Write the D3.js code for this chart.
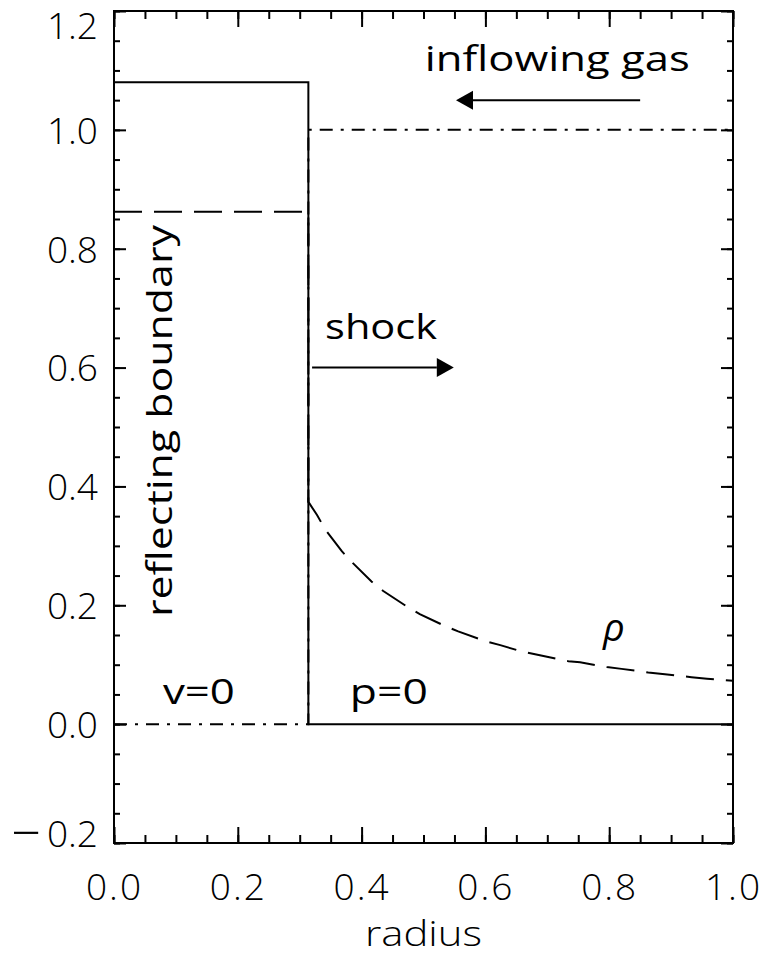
<!DOCTYPE html>
<html>
<head>
<meta charset="utf-8">
<script src="https://cdn.jsdelivr.net/npm/d3@7"></script>
<style>
  html, body { margin: 0; padding: 0; background: #fff; }
  svg { display: block; }
  text { font-family: "Open Sans", "Liberation Sans", sans-serif; font-weight: 300; fill: #000; }
  text.note { font-weight: 400; }
</style>
</head>
<body>
<svg id="chart" width="766" height="957"></svg>
<script>
// Shock tube profile: pressure (solid), density (dashed), velocity (dash-dot)
const xTicks = [0, 0.2, 0.4, 0.6, 0.8, 1.0];
const xTickLabels = ["0.0", "0.2", "0.4", "0.6", "0.8", "1.0"];
const yTicks = [-0.2, 0, 0.2, 0.4, 0.6, 0.8, 1.0, 1.2];
const yTickLabels = ["\u22120.2", "0.0", "0.2", "0.4", "0.6", "0.8", "1.0", "1.2"];

const pressureX = [0, 0.314, 0.314, 1.0];
const pressureY = [1.08, 1.08, 0, 0];

const velocityX = [0, 0.314, 0.314, 1.0];
const velocityY = [0, 0, 1.0, 1.0];

const densityX = [0, 0.314, 0.314, 0.328, 0.341, 0.368, 0.384, 0.416, 0.435, 0.473, 0.494,
                  0.535, 0.556, 0.599, 0.624, 0.656, 0.688, 0.734, 0.753, 0.796, 0.820,
                  0.863, 0.890, 0.933, 0.958, 1.0];
const densityY = [0.862, 0.862, 0.374, 0.352, 0.328, 0.291, 0.273, 0.240, 0.224, 0.198, 0.185,
                  0.165, 0.156, 0.140, 0.133, 0.123, 0.116, 0.106, 0.104, 0.096, 0.093,
                  0.087, 0.084, 0.079, 0.0765, 0.073];

const svg = d3.select("#chart");
const W = 766, H = 957;
const margin = { left: 114, right: W - 733, top: 11, bottom: H - 843 };
const x = d3.scaleLinear().domain([0, 1]).range([margin.left, W - margin.right]);
const y = d3.scaleLinear().domain([-0.2, 1.2]).range([H - margin.bottom, margin.top]);

const x0 = x(0), x1 = x(1), y0 = y(-0.2), y1 = y(1.2);
const minorX = d3.range(0, 1.0001, 0.05).map(v => +v.toFixed(2));
const minorY = d3.range(-0.2, 1.2001, 0.05).map(v => +v.toFixed(2));

const fmtX = d => xTickLabels[xTicks.findIndex(t => Math.abs(t - d) < 1e-6)];
const fmtY = d => yTickLabels[yTicks.findIndex(t => Math.abs(t - d) < 1e-6)];

function styleAxis(g) {
  g.select(".domain").remove();
  g.selectAll("line").attr("stroke", "#000").attr("stroke-width", 2);
}

// Minor ticks on all four sides (pointing inward)
svg.append("g").attr("transform", `translate(0,${y0})`)
  .call(d3.axisBottom(x).tickValues(minorX).tickSize(-8).tickFormat(""))
  .call(styleAxis);
svg.append("g").attr("transform", `translate(0,${y1})`)
  .call(d3.axisTop(x).tickValues(minorX).tickSize(-8).tickFormat(""))
  .call(styleAxis);
svg.append("g").attr("transform", `translate(${x0},0)`)
  .call(d3.axisLeft(y).tickValues(minorY).tickSize(-6).tickFormat(""))
  .call(styleAxis);
svg.append("g").attr("transform", `translate(${x1},0)`)
  .call(d3.axisRight(y).tickValues(minorY).tickSize(-6).tickFormat(""))
  .call(styleAxis);

// Major ticks with labels
const gx = svg.append("g").attr("transform", `translate(0,${y0})`)
  .call(d3.axisBottom(x).tickValues(xTicks).tickSize(-16).tickFormat(fmtX))
  .call(styleAxis);
gx.selectAll("text").attr("y", 57).attr("dy", 0)
  .attr("font-size", 37).attr("font-family", null).attr("letter-spacing", 2);

svg.append("g").attr("transform", `translate(0,${y1})`)
  .call(d3.axisTop(x).tickValues(xTicks).tickSize(-16).tickFormat(""))
  .call(styleAxis);

const gy = svg.append("g").attr("transform", `translate(${x0},0)`)
  .call(d3.axisLeft(y).tickValues(yTicks).tickSize(-12).tickFormat(fmtY))
  .call(styleAxis);
gy.selectAll("text").attr("x", -16).attr("dy", "0.36em")
  .attr("font-size", 37).attr("font-family", null)
  .attr("transform", d => d === 1.2 ? "translate(0,14)" : d === -0.2 ? "translate(0,-10)" : null);
// the negative label gets a longer minus sign and a wider gap
gy.selectAll("text").filter(d => d === -0.2).each(function () {
  const t = d3.select(this);
  const s = t.text();
  t.text(null).attr("dy", null);
  t.append("tspan").text(s.slice(0, 1)).attr("font-size", 52).attr("dy", 17.3);
  t.append("tspan").attr("dx", 6).attr("dy", -4).text(s.slice(1));
});

svg.append("g").attr("transform", `translate(${x1},0)`)
  .call(d3.axisRight(y).tickValues(yTicks).tickSize(-12).tickFormat(""))
  .call(styleAxis);

// Plot frame
svg.append("rect")
  .attr("x", x0).attr("y", y1).attr("width", x1 - x0).attr("height", y0 - y1)
  .attr("fill", "none").attr("stroke", "#000").attr("stroke-width", 2);

// Profiles
const line = d3.line().x(d => x(d[0])).y(d => y(d[1]));
const zipXY = (xs, ys) => xs.map((v, i) => [v, ys[i]]);

svg.append("path").datum(zipXY(velocityX, velocityY))
  .attr("d", line).attr("fill", "none").attr("stroke", "#000").attr("stroke-width", 2)
  .attr("stroke-dasharray", "13,8,3,8");

svg.append("path").datum(zipXY(densityX, densityY))
  .attr("d", line).attr("fill", "none").attr("stroke", "#000").attr("stroke-width", 2)
  .attr("stroke-dasharray", "28,12");

svg.append("path").datum(zipXY(pressureX, pressureY))
  .attr("d", line).attr("fill", "none").attr("stroke", "#000").attr("stroke-width", 2);

// Arrows
function arrow(fromX, toX, atY) {
  const sx = x(fromX), ex = x(toX), py = y(atY);
  const dir = Math.sign(ex - sx);
  const headLen = 17, headHalf = 9.5;
  svg.append("line")
    .attr("x1", sx).attr("y1", py).attr("x2", ex - dir * headLen).attr("y2", py)
    .attr("stroke", "#000").attr("stroke-width", 2);
  svg.append("path")
    .attr("d", `M${ex},${py} L${ex - dir * headLen},${py - headHalf} L${ex - dir * headLen},${py + headHalf} Z`)
    .attr("fill", "#000");
}
arrow(0.85, 0.5525, 1.05);
arrow(0.32, 0.549, 0.6);

// Annotations
function label(txt, px, py, opts = {}) {
  const t = svg.append("text").attr("class", "note").attr("x", px).attr("y", py)
    .attr("font-size", opts.size || 35)
    .text(txt);
  if (opts.len) t.attr("textLength", opts.len).attr("lengthAdjust", "spacingAndGlyphs");
  if (opts.anchor) t.attr("text-anchor", opts.anchor);
  if (opts.italic) t.attr("font-style", "italic");
  if (opts.rotate) t.attr("transform", `rotate(${opts.rotate},${px},${py})`);
  return t;
}

label("inflowing gas", x(0.502), y(1.099), { len: 265 });
label("shock", x(0.341), y(0.648), { len: 112 });
label("\u03c1", x(0.79), y(0.14), { size: 38, italic: true });
label("v=0", x(0.079), y(0.034), { len: 72 });
label("p=0", x(0.381), y(0.034), { len: 78 });
label("reflecting boundary", x(0.094), y(0.51), { len: 392, anchor: "middle", rotate: -90 });

// Axis title
svg.append("text")
  .attr("x", (x0 + x1) / 2).attr("y", 946)
  .attr("text-anchor", "middle").attr("font-size", 35)
  .attr("textLength", 117).attr("lengthAdjust", "spacingAndGlyphs")
  .text("radius");
</script>
</body>
</html>
